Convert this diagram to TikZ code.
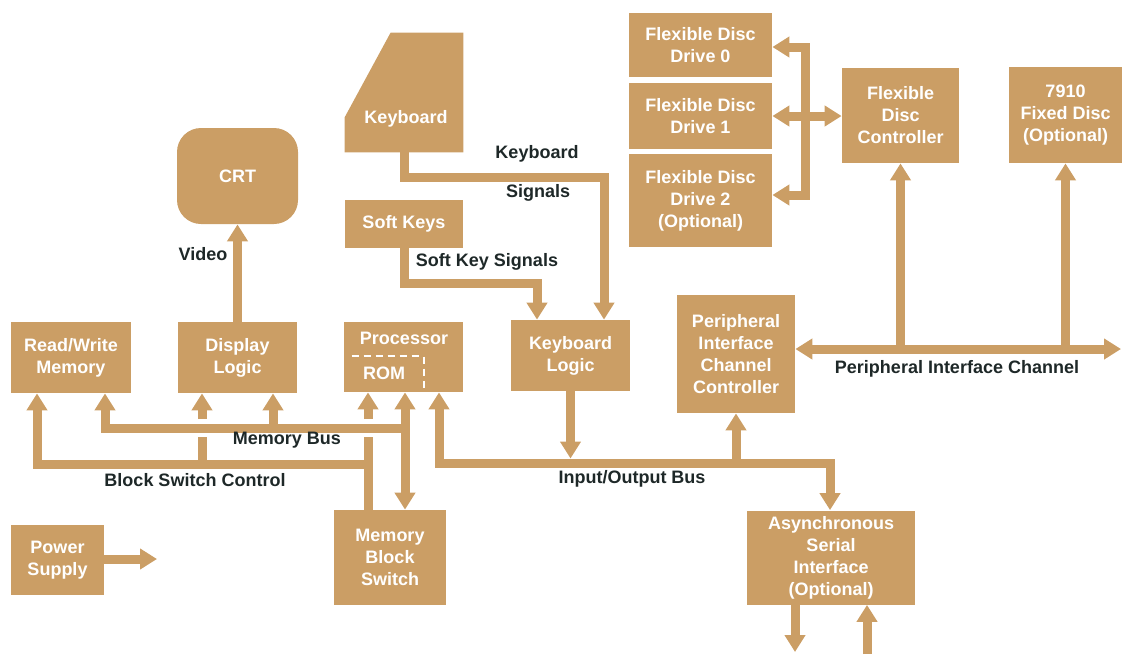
\documentclass[tikz,border=0pt]{standalone}
\usepackage{fontspec}
\setmainfont{Liberation Sans}
\usepackage{tikz}
\usetikzlibrary{arrows.meta,calc,positioning}

\definecolor{hptan}{RGB}{203,158,101}
\definecolor{hpink}{RGB}{30,40,40}

\tikzset{
  unit/.style={fill=hptan, text=white, align=center, inner sep=0pt,
    font=\fontsize{9}{11}\selectfont\bfseries},
  buslabel/.style={text=hpink, inner sep=0pt, font=\fontsize{9}{11}\selectfont\bfseries},
  bus/.style={draw=hptan, line width=4.5pt},
  romline/.style={draw=white, line width=1pt, dash pattern=on 3.5pt off 2.5pt},
  >={Triangle[width=10pt,length=8.5pt]},
}

\begin{document}
\begin{tikzpicture}[x=0.5pt, y=-0.5pt]
	\useasboundingbox (0,0) rectangle (1122,654);

	% units
	\node[unit, minimum width=60pt, minimum height=35.5pt] (rwmem) at (71,357.5) {Read/Write\\Memory};
	\node[unit, minimum width=59.5pt, minimum height=35.5pt] (displ) at (237.5,357.5) {Display\\Logic};
	\node[unit, minimum width=59.5pt, minimum height=35pt] (proc) at (403.5,357) {};
	\node[unit, fill=none] at (404,338) {Processor};
	\node[unit, fill=none] at (384,373) {ROM};
	\draw[romline] ($(proc.south west)+(8,-36)$) -| ($(proc.south)+(20,0)$);
	\node[unit, rounded corners=12pt, minimum width=60.5pt, minimum height=48pt] (crt) at (237.5,176) {CRT};
	\node[inner sep=0pt, minimum width=59pt, minimum height=59.5pt] (kbd) at (404,92.5) {};
	\fill[hptan] ($(kbd.south west)+(0,-35)$) -- ($(kbd.north west)+(46,0)$) -- (kbd.north east) -- (kbd.south east) -- (kbd.south west) -- cycle;
	\node[unit, fill=none] at (406,119) {Keyboard};
	\node[unit, minimum width=59pt, minimum height=24pt] (softkeys) at (404,224) {Soft Keys};
	\node[unit, minimum width=59.5pt, minimum height=35.5pt] (kbdlogic) at (570.5,355.5) {Keyboard\\Logic};
	\node[unit, minimum width=59pt, minimum height=59pt] (picc) at (736,354) {Peripheral\\Interface\\Channel\\Controller};
	\node[unit, minimum width=71.5pt, minimum height=32pt] (drive0) at (700.5,45) {Flexible Disc\\Drive 0};
	\node[unit, minimum width=71.5pt, minimum height=33pt] (drive1) at (700.5,116) {Flexible Disc\\Drive 1};
	\node[unit, minimum width=71.5pt, minimum height=46.5pt] (drive2) at (700.5,200.5) {Flexible Disc\\Drive 2\\(Optional)};
	\node[unit, minimum width=58.5pt, minimum height=47.5pt] (fdc) at (900.5,115.5) {Flexible\\Disc\\Controller};
	\node[unit, minimum width=56.5pt, minimum height=48pt] (fixed) at (1065.5,115) {7910\\Fixed Disc\\(Optional)};
	\node[unit, minimum width=56pt, minimum height=47.5pt] (mbs) at (390,557.5) {Memory\\Block\\Switch};
	\node[unit, minimum width=84pt, minimum height=47pt] (asi) at (831,557.5) {Asynchronous\\Serial\\Interface\\(Optional)};
	\node[unit, minimum width=46.5pt, minimum height=35pt] (power) at (57.5,560) {Power\\Supply};

	% bend points and free ends
	\coordinate (kbdbend) at (604,177);
	\coordinate (skbend) at (537,283);
	\coordinate (dbtop) at (805,47);
	\coordinate (dbbot) at (805,195);
	\coordinate (picend) at (1121,349);
	\coordinate (rom) at (405,428);
	\coordinate (mbleft) at (105,428);
	\coordinate (mbdisp) at (273,428);
	\coordinate (bscleft) at (37,464);
	\coordinate (bscright) at (368,464);
	\coordinate (bscdisp) at (202,464);
	\coordinate (iol) at (439,463);
	\coordinate (ior) at (830,463);
	\coordinate (asiout) at (795,652);
	\coordinate (asiin) at (867,654);
	\coordinate (pwrout) at (157,559);

	% connectors
	\draw[bus,->] (displ.north) -- (crt.south);
	\draw[bus,->] (kbd.south) |- (kbdbend) -- (kbdbend |- kbdlogic.north);
	\draw[bus,->] (softkeys.south) |- (skbend) -- (skbend |- kbdlogic.north);
	\draw[bus,<->] (drive0.east |- dbtop) -- (dbtop) -- (dbbot) -- (drive2.east |- dbbot);
	\draw[bus,<->] (drive1.east) -- (drive1.east -| fdc.west);
	\draw[bus,<->] (picc.east |- picend) -- (picend);
	\draw[bus,->] (fdc.south |- picend) -- (fdc.south);
	\draw[bus,->] (fixed.south |- picend) -- (fixed.south);
	\draw[bus,<->] (rom |- proc.south) -- (rom |- mbs.north);
	\draw[bus,->] (rom) -- (mbleft) -- (mbleft |- rwmem.south);
	\draw[bus,->] (mbdisp) -- (mbdisp |- displ.south);
	\draw[bus,->] (bscright) -- (bscleft) -- (bscleft |- rwmem.south);
	\draw[bus] (bscright |- mbs.north) -- ($(rom -| bscright)+(0,9)$);
	\draw[bus,->] ($(rom -| bscright)+(0,-9)$) -- (bscright |- proc.south);
	\draw[bus] (bscdisp) -- ($(rom -| bscdisp)+(0,9)$);
	\draw[bus,->] ($(rom -| bscdisp)+(0,-9)$) -- (bscdisp |- displ.south);
	\draw[bus,<->] (iol |- proc.south) -- (iol) -- (ior) -- (ior |- asi.north);
	\draw[bus,->, shorten >=2.25pt] (kbdlogic.south) -- (kbdlogic.south |- iol);
	\draw[bus,->] (picc.south |- iol) -- (picc.south);
	\draw[bus,->] (asiout |- asi.south) -- (asiout);
	\draw[bus,->] (asiin) -- (asiin |- asi.south);
	\draw[bus,->] (power.east |- pwrout) -- (pwrout);

	% labels
	\node[buslabel] at (203,254) {Video};
	\node[buslabel] at (537,154) {Keyboard};
	\node[buslabel] at (538,193) {Signals};
	\node[buslabel] at (487,262) {Soft Key Signals};
	\node[buslabel] at (957,369) {Peripheral Interface Channel};
	\node[buslabel] at (287,440) {Memory Bus};
	\node[buslabel] at (195,480) {Block Switch Control};
	\node[buslabel] at (632,479) {Input/Output Bus};
\end{tikzpicture}
\end{document}
